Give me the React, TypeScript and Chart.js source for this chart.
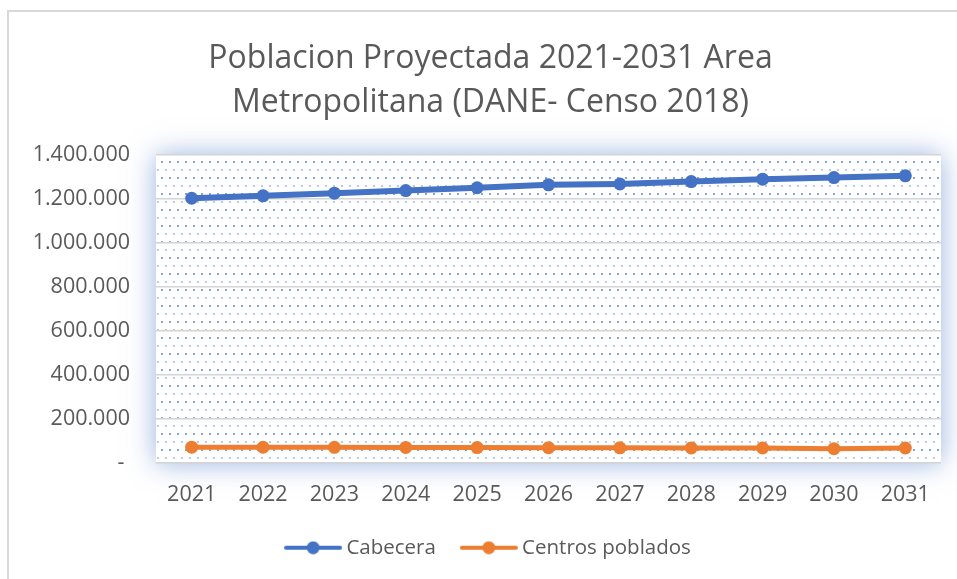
import React, { useEffect, useRef } from "react";
import { Chart, registerables } from "chart.js";

Chart.register(...registerables);

const years = ["2021", "2022", "2023", "2024", "2025", "2026", "2027", "2028", "2029", "2030", "2031"];
const cabecera = [1203000, 1214000, 1226000, 1238000, 1251000, 1264000, 1268000, 1279000, 1290000, 1297000, 1305000];
const centrosPoblados = [70000, 69500, 69000, 68500, 68000, 67500, 67000, 66500, 66000, 63000, 66000];
const titleLines = ["Poblacion Proyectada 2021-2031 Area", "Metropolitana (DANE- Censo 2018)"];
const seriesNames = ["Cabecera", "Centros poblados"];
const seriesColors = ["#4472C4", "#ED7D31"];

const FONT = "'Open Sans', 'Noto Sans', sans-serif";
const TEXT = "#595959";

function fmt(v: number): string {
  if (v === 0) return "- ";
  return String(Math.round(v)).replace(/\B(?=(\d{3})+(?!\d))/g, ".");
}

function legendImage(color: string): HTMLCanvasElement {
  const c = document.createElement("canvas");
  c.width = 58;
  c.height = 14;
  const g = c.getContext("2d")!;
  g.strokeStyle = color;
  g.lineWidth = 4;
  g.lineCap = "round";
  g.beginPath();
  g.moveTo(2, 7);
  g.lineTo(56, 7);
  g.stroke();
  g.fillStyle = color;
  g.beginPath();
  g.arc(29, 7, 6.5, 0, Math.PI * 2);
  g.fill();
  return c;
}

function dotPattern(ctx: CanvasRenderingContext2D): CanvasPattern | string {
  const c = document.createElement("canvas");
  c.width = 8;
  c.height = 16;
  const g = c.getContext("2d")!;
  g.fillStyle = "#ffffff";
  g.fillRect(0, 0, 8, 16);
  g.fillStyle = "rgba(68,114,196,0.85)";
  g.beginPath();
  g.arc(2, 2, 1, 0, Math.PI * 2);
  g.fill();
  g.fillStyle = "rgba(68,114,196,0.55)";
  g.beginPath();
  g.arc(6, 10, 0.9, 0, Math.PI * 2);
  g.fill();
  return ctx.createPattern(c, "repeat") || "#fff";
}

const backgroundPlugin = {
  id: "bgDecor",
  afterLayout(chart: any) {
    const shift = 40;
    if (chart.titleBlock) chart.titleBlock.left = shift;
    if (chart.legend) chart.legend.left = shift;
  },
  beforeDraw(chart: any) {
    const { ctx, chartArea } = chart;
    const { left, top, right, bottom } = chartArea;
    ctx.save();
    ctx.fillStyle = "#ffffff";
    ctx.fillRect(0, 0, chart.width, chart.height);
    ctx.strokeStyle = "#d9d9d9";
    ctx.lineWidth = 2;
    ctx.beginPath();
    ctx.moveTo(8, chart.height + 5);
    ctx.lineTo(8, 11);
    ctx.lineTo(chart.width + 5, 11);
    ctx.stroke();
    ctx.shadowColor = "rgba(68,114,196,0.55)";
    ctx.shadowBlur = 26;
    ctx.fillStyle = "#ffffff";
    ctx.fillRect(left, top, right - left, bottom - top);
    ctx.shadowBlur = 0;
    ctx.shadowColor = "transparent";
    ctx.fillStyle = dotPattern(ctx);
    ctx.fillRect(left, top, right - left, bottom - top);
    ctx.restore();
  },
};

export default function App() {
  const ref = useRef<HTMLCanvasElement | null>(null);

  useEffect(() => {
    document.body.style.margin = "0";
    const canvas = ref.current;
    if (!canvas) return;
    const images = seriesColors.map(legendImage);
    const chart = new Chart(canvas, {
      type: "line",
      data: {
        labels: years,
        datasets: [
          {
            label: seriesNames[0],
            data: cabecera,
            borderColor: seriesColors[0],
            backgroundColor: seriesColors[0],
            borderWidth: 6,
            pointRadius: 6.5,
            pointHoverRadius: 6.5,
            pointBorderWidth: 0,
          },
          {
            label: seriesNames[1],
            data: centrosPoblados,
            borderColor: seriesColors[1],
            backgroundColor: seriesColors[1],
            borderWidth: 5,
            pointRadius: 6.5,
            pointHoverRadius: 6.5,
            pointBorderWidth: 0,
          },
        ],
      },
      options: {
        responsive: false,
        animation: false,
        events: [],
        layout: { padding: { left: 0, right: 16, top: 0, bottom: 11 } },
        plugins: {
          title: {
            display: true,
            text: titleLines,
            color: TEXT,
            font: { family: FONT, size: 32, weight: "normal", lineHeight: 44 / 32 },
            padding: { top: 37, bottom: 30 },
          },
          legend: {
            position: "bottom",
            labels: {
              color: TEXT,
              font: { family: FONT, size: 20.5 },
              usePointStyle: true,
              pointStyleWidth: 46,
              padding: 30,
              generateLabels(ch: any) {
                const items = Chart.defaults.plugins.legend.labels.generateLabels(ch);
                return items.map((it: any, i: number) => ({ ...it, pointStyle: images[i] }));
              },
            },
          },
          tooltip: { enabled: false },
        },
        scales: {
          x: {
            offset: true,
            grid: { display: false, drawTicks: false },
            border: { display: false },
            ticks: { color: TEXT, font: { family: FONT, size: 21.5 }, padding: 19, maxRotation: 0 },
            afterFit(scale: any) {
              scale.height = 45;
            },
          },
          y: {
            min: 0,
            max: 1400000,
            grid: { color: "#d4d4d4", lineWidth: 1.5, drawTicks: false },
            border: { display: false },
            ticks: {
              stepSize: 200000,
              color: TEXT,
              font: { family: FONT, size: 21.5 },
              padding: 26,
              callback: (v: any) => fmt(Number(v)),
            },
            afterFit(scale: any) {
              scale.width = 156;
            },
          },
        },
      },
      plugins: [backgroundPlugin],
    });
    return () => chart.destroy();
  }, []);

  return <canvas ref={ref} width={957} height={579} style={{ display: "block" }} />;
}
